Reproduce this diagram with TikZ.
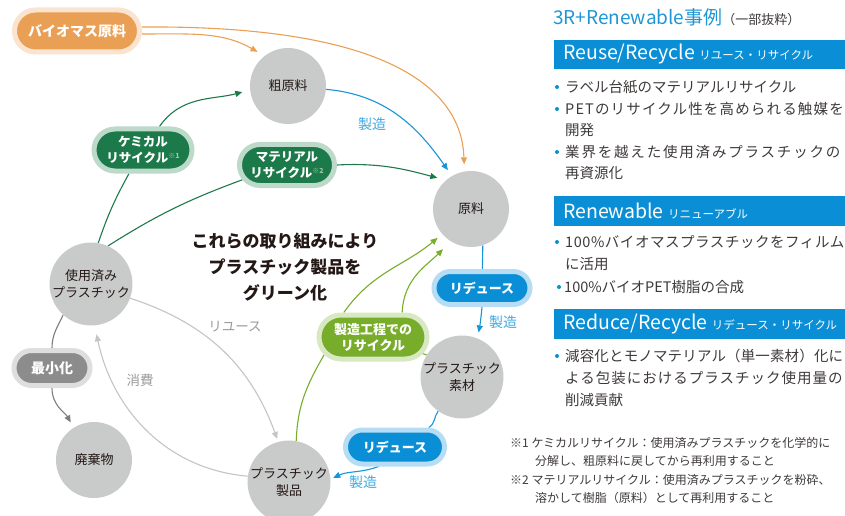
\documentclass[tikz,border=0pt]{standalone}
\usepackage{fontspec}
\setmainfont{Noto Sans CJK JP}
\usetikzlibrary{shapes.misc,arrows.meta,calc}
\pgfdeclarelayer{bg}
\pgfsetlayers{bg,main}
\definecolor{circgray}{HTML}{C9CACA}
\definecolor{txtdark}{HTML}{231815}
\definecolor{orgfill}{HTML}{E9A055}
\definecolor{orglight}{HTML}{FAE4D0}
\definecolor{grnfill}{HTML}{1C7A4A}
\definecolor{grnlight}{HTML}{BCD9C9}
\definecolor{grnsup}{HTML}{9CC5AE}
\definecolor{limefill}{HTML}{77AD2B}
\definecolor{limelight}{HTML}{D8E8C2}
\definecolor{blufill}{HTML}{0A8FD6}
\definecolor{blulight}{HTML}{B6DDF4}
\definecolor{gryfill}{HTML}{8C8C8C}
\definecolor{grylight}{HTML}{DEDEDE}
\definecolor{bluline}{HTML}{1795D8}
\definecolor{labelblue}{HTML}{3FA8DE}
\definecolor{lblgray}{HTML}{9A9A9A}
\definecolor{lgline}{HTML}{C4C4C4}
\definecolor{dgline}{HTML}{7D7D7D}
\definecolor{barblue}{HTML}{0A8FD6}
\definecolor{titleblue}{HTML}{1E96D4}
\definecolor{bodytxt}{HTML}{3E3A39}
\newcommand{\smallbartxt}{\fontsize{11.5}{12}\selectfont}
\newcommand{\trk}[1]{\addfontfeature{LetterSpace=#1}}
\begin{document}
\begin{tikzpicture}[x=1pt,y=1pt,
  circ/.style={circle, fill=circgray, minimum size=76pt, inner sep=0pt, align=center, text=txtdark, font=\fontsize{13}{17}\selectfont},
  pill/.style={rounded rectangle, line width=5pt, inner sep=0pt, align=center, text=white, font=\bfseries\fontsize{12.5}{16}\selectfont},
  arr/.style={-{Triangle[length=7pt,width=6pt]}, line width=1.1pt},
  ln/.style={line width=1.1pt},
  lbl/.style={inner sep=0pt, font=\fontsize{14}{16}\selectfont},
  bar/.style={fill=barblue},
  bartxt/.style={anchor=west, inner sep=0pt, text=white, font=\fontsize{19.5}{21}\selectfont},
  dot/.style={circle, fill=barblue, inner sep=0pt, minimum size=4pt},
  body/.style={anchor=west, inner sep=0pt, text=bodytxt, font=\fontsize{14.5}{17}\selectfont},
  note/.style={anchor=west, inner sep=0pt, text=bodytxt, font=\fontsize{12}{14}\selectfont}
]
\useasboundingbox (0,0) rectangle (845,515);

% circles
\node[circ] (rc) at (288,429) {粗原料};
\node[circ] (gen) at (471,306) {原料};
\node[circ] (used) at (91,231) {使用済み\\プラスチック};
\node[circ] (waste) at (94,55) {廃棄物};
\node[circ] (prod) at (289,33) {プラスチック\\製品};
\node[circ] (mat) at (462,138) {プラスチック\\素材};

% pills
\node[pill, fill=orgfill, draw=orglight, minimum width=125pt, minimum height=42pt, font=\bfseries\fontsize{14}{16}\selectfont] (bio) at (77,484) {バイオマス原料};
\node[pill, fill=grnfill, draw=grnlight, minimum width=98pt, minimum height=42pt] (chem) at (143,365) {ケミカル\\リサイクル{\color{grnsup}\fontsize{7}{7}\selectfont\raisebox{4pt}{※1}}};
\node[pill, fill=grnfill, draw=grnlight, minimum width=95pt, minimum height=41pt] (matr) at (287,350) {マテリアル\\リサイクル{\color{grnsup}\fontsize{7}{7}\selectfont\raisebox{4pt}{※2}}};
\node[pill, fill=gryfill, draw=grylight, minimum width=76pt, minimum height=35pt, font=\bfseries\fontsize{14}{16}\selectfont] (mini) at (52,147) {最小化};
\node[pill, fill=limefill, draw=limelight, minimum width=108pt, minimum height=44pt, font=\bfseries\fontsize{13}{16}\selectfont] (mfg) at (373,178) {製造工程での\\リサイクル};
\node[pill, fill=blufill, draw=blulight, minimum width=96pt, minimum height=33pt, font=\bfseries\fontsize{13}{15}\selectfont] (red1) at (482,227) {リデュース};
\node[pill, fill=blufill, draw=blulight, minimum width=99pt, minimum height=34pt, font=\bfseries\fontsize{13}{15}\selectfont] (red2) at (395,68) {リデュース};

% labels
\node[lbl, text=labelblue] (l1) at (372,391) {製造};
\node[lbl, text=labelblue] (l2) at (503,193) {製造};
\node[lbl, text=labelblue] (l3) at (363,33) {製造};
\node[lbl, text=lblgray, font=\fontsize{13.5}{16}\selectfont] (l4) at (235,188) {リユース};
\node[lbl, text=lblgray, font=\fontsize{13.5}{16}\selectfont] (l5) at (140,135) {消費};

\node[align=center, inner sep=0pt, text=txtdark, font=\bfseries\fontsize{17}{26}\selectfont] (msg) at (285,248) {これらの取り組みにより\\プラスチック製品を\\グリーン化};

% connectors
\begin{pgfonlayer}{bg}
\draw[arr, orgfill, shorten >=8pt] ($(bio.east)+(0,-3)$) to[out=0,in=150] (rc.128);
\draw[arr, orgfill, shorten >=7pt] ($(bio.east)+(0,4)$) .. controls (400,490) and (462,420) .. (gen.100);
\draw[arr, bluline, shorten >=7pt] (rc.-5) to[out=-5,in=125] (gen.120);
\draw[ln, grnfill] (used.80) to[bend left=5] (chem);
\draw[arr, grnfill, shorten >=8pt] (chem.55) to[out=55,in=195] (rc.186);
\draw[ln, grnfill] (used.66) to[bend left=6] (matr);
\draw[arr, grnfill, shorten >=9pt] (matr.east) to[out=3,in=165] (gen.131);
\draw[ln, dgline] (used.228) to[out=245,in=90] (mini.north);
\draw[arr, dgline, shorten >=6pt] (mini.south) to[out=-90,in=120] (waste.122);
\draw[arr, lgline, shorten >=3pt] (used.-20) to[out=-18,in=110] (prod.105);
\draw[arr, lgline, shorten >=9pt] (prod.172) to[out=175,in=-78] (used.-85);
\draw[ln, limefill] (prod.80) to[out=88,in=240] (mfg.200);
\draw[arr, limefill, shorten >=6pt] (mfg.140) to[out=55,in=220] (gen.221);
\draw[ln, limefill] (mat.148) -- (mfg);
\draw[arr, limefill, shorten >=11pt] (mfg.40) to[out=88,in=225] (gen.238);
\draw[ln, bluline] (gen.-72) -- (red1);
\draw[arr, bluline, shorten >=6pt] (red1.south) to[out=-95,in=80] (mat.68);
\draw[ln, bluline] (mat.235) to[out=235,in=30] (red2);
\draw[arr, bluline, shorten >=3pt] (red2.230) to[out=200,in=25] (prod.4);
\end{pgfonlayer}

% right panel
\node[anchor=west, inner sep=0pt, text=titleblue, font=\fontsize{19}{21}\selectfont] (title) at (553,498) {3R+Renewable事例{\color{bodytxt}\fontsize{13}{16}\selectfont （一部抜粋）}};

\fill[bar] (554,446) rectangle (845,475);
\node[bartxt] (b1) at (563,460.5) {Reuse/Recycle {\smallbartxt リユース・リサイクル}};
\fill[bar] (554,289) rectangle (845,319);
\node[bartxt] (b2) at (563,304) {Renewable {\smallbartxt リニューアブル}};
\fill[bar] (554,176) rectangle (845,206);
\node[bartxt] (b3) at (563,191) {Reduce/Recycle {\smallbartxt リデュース・リサイクル}};

\node[dot] (d1) at (557,428) {};
\node[body] (t1) at (565,428) {ラベル台紙のマテリアルリサイクル};
\node[dot] (d2) at (557,406) {};
\node[body] (t2) at (565,406) {\trk{8}PETのリサイクル性を高められる触媒を};
\node[body] (t3) at (565,385) {開発};
\node[dot] (d3) at (557,363) {};
\node[body] (t4) at (565,363) {\trk{12.5}業界を越えた使用済みプラスチックの};
\node[body] (t5) at (565,342) {再資源化};

\node[dot] (d4) at (557,273) {};
\node[body] (t6) at (565,273) {\trk{3.8}100\%バイオマスプラスチックをフィルム};
\node[body] (t7) at (565,251) {に活用};
\node[dot] (d5) at (559,228) {};
\node[body] (t8) at (564,228) {100\%バイオPET樹脂の合成};

\node[dot] (d6) at (557,159) {};
\node[body] (t9) at (565,159) {\trk{1}減容化とモノマテリアル（単一素材）化に};
\node[body] (t10) at (565,137) {\trk{7}よる包装におけるプラスチック使用量の};
\node[body] (t11) at (565,115) {削減貢献};

\node[note] (n1) at (510,72) {※1 ケミカルリサイクル：使用済みプラスチックを化学的に};
\node[note] (n2) at (535,54) {分解し、粗原料に戻してから再利用すること};
\node[note] (n3) at (510,35) {※2 マテリアルリサイクル：使用済みプラスチックを粉砕、};
\node[note] (n4) at (535,17) {溶かして樹脂（原料）として再利用すること};
\end{tikzpicture}
\end{document}
